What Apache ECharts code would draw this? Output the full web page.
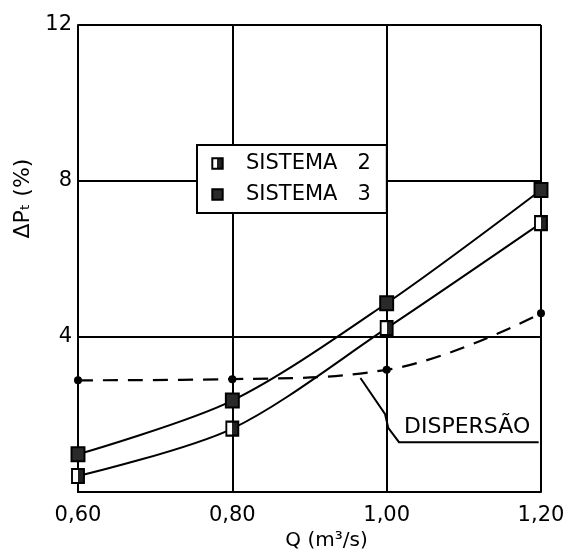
<!DOCTYPE html>
<html lang="en">
<head>
<meta charset="UTF-8">
<title>Delta Pt x Q</title>
<script src="https://cdn.jsdelivr.net/npm/echarts@6/dist/echarts.min.js"></script>
<style>
    html, body { margin: 0; padding: 0; background: #fff; }
    #charts { width: 567px; height: 549px; }
</style>
</head>
<body>
<div id="charts"></div>
<script>
    // dados
    var vazoes = [0.60, 0.80, 1.00, 1.20];
    var sistema2 = [0.41, 1.63, 4.21, 6.91];
    var sistema3 = [0.97, 2.35, 4.85, 7.76];
    var dispersao = [2.87, 2.90, 3.14, 4.59];
    var yTicks = [4, 8, 12];

    var font = 'DejaVu Sans';

    function pares(ys) {
        return vazoes.map(function (x, i) { return [x, ys[i]]; });
    }

    // quadrado meio cheio (sistema 2)
    var meioCheio = new echarts.graphic.LinearGradient(0, 0, 1, 0, [
        { offset: 0, color: '#fff' }, { offset: 0.5, color: '#fff' },
        { offset: 0.5, color: '#222' }, { offset: 1, color: '#222' }
    ]);

    var myChart = echarts.init(document.getElementById('charts'));

    var option = {
        backgroundColor: '#fff',
        animation: false,
        grid: { left: 78, right: 26, top: 25, bottom: 57, outerBoundsMode: 'none', containLabel: false },
        legend: {
            orient: 'vertical',
            left: 197, top: 145,
            padding: [8, 16, 8, 14],
            itemGap: 10,
            itemWidth: 11, itemHeight: 13,
            borderColor: '#000', borderWidth: 2,
            backgroundColor: '#fff',
            textStyle: { fontFamily: font, fontSize: 21, color: '#000', padding: [0, 0, 0, 18] },
            formatter: function (name) { return name.replace(' ', '   '); },
            data: ['SISTEMA 2', 'SISTEMA 3']
        },
        xAxis: {
            type: 'value', min: 0.6, max: 1.2, interval: 0.2,
            name: 'Q (m³/s)', nameLocation: 'middle', nameGap: 35,
            nameTextStyle: { fontFamily: font, fontSize: 20, color: '#000', padding: [0, 0, 0, 34] },
            axisLine: { lineStyle: { color: '#000', width: 2 } },
            axisTick: { show: false },
            axisLabel: {
                fontFamily: font, fontSize: 21, color: '#000', margin: 13,
                formatter: function (v) { return v.toFixed(2).replace('.', ','); }
            },
            splitLine: { lineStyle: { color: '#000', width: 2 } }
        },
        yAxis: {
            type: 'value', min: 0, max: 12, interval: 4,
            name: 'ΔPₜ (%)', nameLocation: 'middle', nameGap: 36, nameRotate: 90,
            nameTextStyle: { fontFamily: font, fontSize: 22, color: '#000', padding: [0, 0, 0, 120] },
            axisLine: { show: true, lineStyle: { color: '#000', width: 2 } },
            axisTick: { show: false },
            axisLabel: {
                fontFamily: font, fontSize: 21, color: '#000', margin: 6,
                formatter: function (v) { return yTicks.indexOf(v) >= 0 ? String(v) : ''; }
            },
            splitLine: { lineStyle: { color: '#000', width: 2 } }
        },
        series: [
            {
                name: 'SISTEMA 2', type: 'line', smooth: 0.3,
                data: pares(sistema2),
                symbol: 'rect', symbolSize: [12, 14],
                itemStyle: { color: meioCheio, borderColor: '#000', borderWidth: 2 },
                lineStyle: { color: '#000', width: 2 }
            },
            {
                name: 'SISTEMA 3', type: 'line', smooth: 0.3,
                data: pares(sistema3),
                symbol: 'rect', symbolSize: [13, 14],
                itemStyle: { color: '#2a2a2a', borderColor: '#000', borderWidth: 2 },
                lineStyle: { color: '#000', width: 2 }
            },
            {
                name: 'DISPERSÃO', type: 'line', smooth: 0.4,
                data: pares(dispersao),
                symbol: 'circle', symbolSize: 8,
                itemStyle: { color: '#000' },
                lineStyle: { color: '#000', width: 2.2, type: [15, 10] }
            }
        ]
    };

    myChart.setOption(option);

    // rótulo "DISPERSÃO" com linha de chamada
    var p1 = myChart.convertToPixel('grid', [0.966, 2.93]);
    var p2 = myChart.convertToPixel('grid', [0.998, 2.0]);
    var p3 = myChart.convertToPixel('grid', [1.002, 1.65]);
    var p4 = myChart.convertToPixel('grid', [1.016, 1.28]);
    var p5 = myChart.convertToPixel('grid', [1.197, 1.28]);
    myChart.setOption({
        graphic: [
            {
                type: 'polyline',
                shape: { points: [p1, p2, p3, p4, p5] },
                style: { stroke: '#000', lineWidth: 2, fill: null }
            },
            {
                type: 'text',
                x: p4[0] + 5, y: p4[1] - 4,
                style: {
                    text: 'DISPERSÃO', fontFamily: font, fontSize: 22, fill: '#000',
                    verticalAlign: 'bottom'
                }
            }
        ]
    });
</script>
</body>
</html>
